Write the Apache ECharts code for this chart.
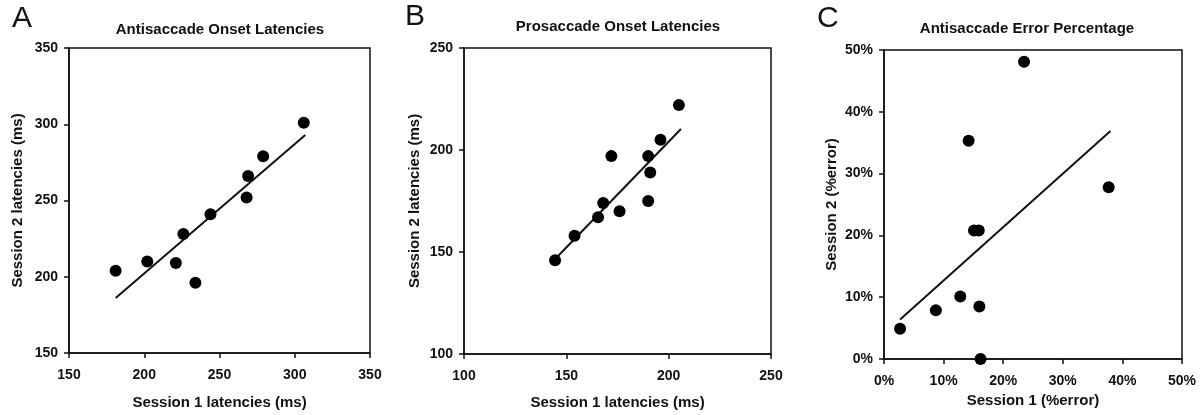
<!DOCTYPE html>
<html>
<head>
<meta charset="utf-8">
<script src="https://cdn.jsdelivr.net/npm/echarts@6/dist/echarts.min.js"></script>
<style>
html,body{margin:0;padding:0;background:#fff;}
#chart{width:1203px;height:415px;}
</style>
</head>
<body>
<div id="chart"></div>
<script>
// Panel A: Antisaccade onset latencies (ms)
const aSession1 = [181, 202, 221, 226, 234, 244, 268, 269, 279, 306];
const aSession2 = [204, 210, 209, 228, 196, 241, 252, 266, 279, 301];
const aFitX = [181, 307];
const aFitY = [186, 293];
// Panel B: Prosaccade onset latencies (ms)
const bSession1 = [144.5, 154, 165.5, 168, 172, 176, 190, 191, 190, 196, 205];
const bSession2 = [146, 158, 167, 174, 197, 170, 175, 189, 197, 205, 222];
const bFitX = [145.6, 206];
const bFitY = [147.7, 210.3];
// Panel C: Antisaccade error percentage (%)
const cSession1 = [2.7, 8.7, 12.8, 14.2, 15.1, 15.9, 16.0, 16.2, 23.5, 37.7];
const cSession2 = [4.9, 7.9, 10.1, 35.3, 20.8, 20.8, 8.5, 0, 48.1, 27.8];
const cFitX = [2.7, 38.0];
const cFitY = [6.4, 36.9];

const panelLetters = ['A', 'B', 'C'];
const panelTitles = ['Antisaccade Onset Latencies', 'Prosaccade Onset Latencies', 'Antisaccade Error Percentage'];
const xNames = ['Session 1 latencies (ms)', 'Session 1 latencies (ms)', 'Session 1 (%error)'];
const yNames = ['Session 2 latencies (ms)', 'Session 2 latencies (ms)', 'Session 2 (%error)'];

const FONT = '"Liberation Sans", Arial, sans-serif';
const INK = '#111';

function pairs(xs, ys) { return xs.map((x, i) => [x, ys[i]]); }

const grids = [
  { left: 69, top: 48, width: 301, height: 306 },
  { left: 464, top: 48, width: 307, height: 309 },
  { left: 884, top: 50, width: 298, height: 309 }
];
const ranges = [
  { min: 150, max: 350, interval: 50, fmt: '{value}' },
  { min: 100, max: 250, interval: 50, fmt: '{value}' },
  { min: 0, max: 50, interval: 10, fmt: '{value}%' }
];
const xNameGaps = [42, 41, 34];
const yNameGaps = [44, 42, 45];

function axis(i, isX) {
  const r = ranges[i];
  return {
    type: 'value', gridIndex: i, min: r.min, max: r.max, interval: r.interval,
    name: isX ? xNames[i] : yNames[i],
    nameLocation: 'middle',
    nameGap: isX ? xNameGaps[i] : yNameGaps[i],
    nameTextStyle: { fontFamily: FONT, fontWeight: 'bold', fontSize: 15, color: INK },
    axisLine: { show: true, onZero: false, lineStyle: { color: INK, width: 1.5 } },
    axisTick: { show: true, inside: false, length: 5, lineStyle: { color: INK, width: 1.5 } },
    axisLabel: { formatter: r.fmt, fontFamily: FONT, fontWeight: 'bold', fontSize: 14, color: INK, margin: isX ? 15 : 11 },
    splitLine: { show: false }
  };
}

const series = [];
const sets = [[aSession1, aSession2, aFitX, aFitY], [bSession1, bSession2, bFitX, bFitY], [cSession1, cSession2, cFitX, cFitY]];
sets.forEach((s, i) => {
  series.push({
    type: 'line', xAxisIndex: i, yAxisIndex: i, data: pairs(s[2], s[3]),
    showSymbol: false, symbol: 'none', lineStyle: { color: INK, width: 2 }, silent: true, z: 2
  });
  series.push({
    type: 'scatter', xAxisIndex: i, yAxisIndex: i, data: pairs(s[0], s[1]),
    symbol: 'circle', symbolSize: 12, itemStyle: { color: '#000', opacity: 1 }, z: 3
  });
});

const letterPos = [[12, 4], [405, 2], [817, 4]];
const titlePos = [[220, 30], [618, 27], [1027, 29]];
const graphics = [];
panelLetters.forEach((t, i) => {
  graphics.push({ type: 'text', x: letterPos[i][0], y: letterPos[i][1],
    style: { text: t, font: 'normal 30px ' + FONT, fill: INK, align: 'left', verticalAlign: 'top' } });
});
panelTitles.forEach((t, i) => {
  graphics.push({ type: 'text', x: titlePos[i][0], y: titlePos[i][1],
    style: { text: t, font: 'bold 15px ' + FONT, fill: INK, align: 'center', verticalAlign: 'middle' } });
});

const chart = echarts.init(document.getElementById('chart'), null, { renderer: 'canvas' });
chart.setOption({
  animation: false,
  backgroundColor: '#fff',
  grid: grids.map(g => Object.assign({ show: true, borderColor: INK, borderWidth: 1.5, backgroundColor: 'transparent', containLabel: false }, g)),
  xAxis: [0, 1, 2].map(i => axis(i, true)),
  yAxis: [0, 1, 2].map(i => axis(i, false)),
  series: series,
  graphic: graphics
});
</script>
</body>
</html>
